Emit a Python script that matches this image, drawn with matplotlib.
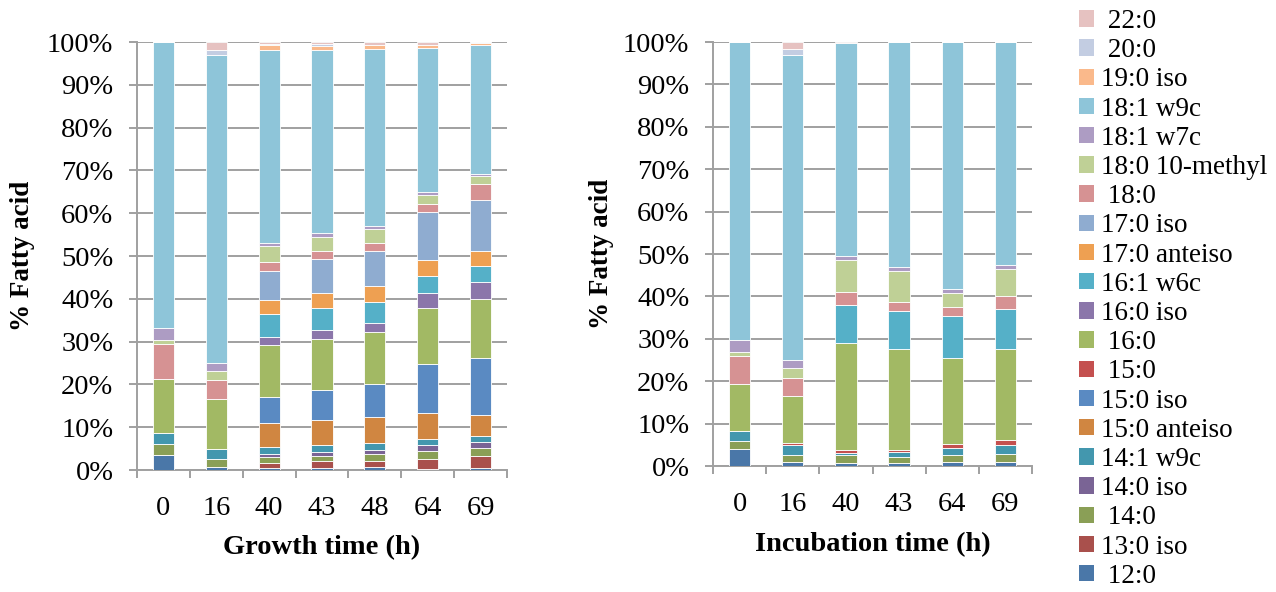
import matplotlib
matplotlib.use("Agg")
import matplotlib.pyplot as plt
from matplotlib.patches import Patch
import numpy as np

plt.rcParams['font.family'] = ['Liberation Serif', 'DejaVu Serif']

# ---------------- data ----------------
acids = ['12:0', '13:0 iso', '14:0', '14:0 iso', '14:1 w9c', '15:0 anteiso',
         '15:0 iso', '15:0', '16:0', '16:0 iso', '16:1 w6c', '17:0 anteiso',
         '17:0 iso', '18:0', '18:0 10-methyl', '18:1 w7c', '18:1 w9c',
         '19:0 iso', '20:0', '22:0']
legend_labels = [' 12:0', '13:0 iso', ' 14:0', '14:0 iso', '14:1 w9c', '15:0 anteiso',
                 '15:0 iso', ' 15:0', ' 16:0', '16:0 iso', '16:1 w6c', '17:0 anteiso',
                 '17:0 iso', ' 18:0', '18:0 10-methyl', '18:1 w7c', '18:1 w9c',
                 '19:0 iso', ' 20:0', ' 22:0']
colors = ['#4a77a8', '#a9504c', '#8a9f56', '#7a6495', '#4397ae', '#d08641',
          '#5a8ac2', '#c4504f', '#a2b964', '#8b76aa', '#55b0c8', '#eea052',
          '#8facd0', '#d69293', '#bfd096', '#ad9cc3', '#8ec5d9',
          '#fab98b', '#c3cde2', '#e6c2c1']

growth_times = ['0', '16', '40', '43', '48', '64', '69']
growth_12_0 = [3.5, 0.8, 0.5, 0.5, 0.6, 0.3, 0.5]
growth_13_0_iso = [0, 0, 1.2, 1.5, 1.5, 2.3, 2.8]
growth_14_0 = [2.5, 1.7, 1.4, 1.3, 1.6, 1.8, 1.9]
growth_14_0_iso = [0, 0, 0.6, 0.9, 0.9, 1.4, 1.4]
growth_14_1_w9c = [2.7, 2.5, 1.8, 1.6, 1.7, 1.5, 1.4]
growth_15_0_anteiso = [0, 0, 5.5, 5.8, 6.2, 6.0, 4.8]
growth_15_0_iso = [0, 0, 6.2, 7.1, 7.6, 11.6, 13.3]
growth_15_0 = [0, 0, 0, 0, 0, 0, 0]
growth_16_0 = [12.6, 11.7, 12.1, 11.8, 12.1, 12.9, 13.8]
growth_16_0_iso = [0, 0, 1.8, 2.3, 2.3, 3.7, 4.0]
growth_16_1_w6c = [0, 0, 5.5, 5.1, 4.8, 3.9, 3.7]
growth_17_0_anteiso = [0, 0, 3.3, 3.4, 3.7, 3.7, 3.4]
growth_17_0_iso = [0, 0, 6.8, 7.9, 8.3, 11.3, 12.0]
growth_18_0 = [8.2, 4.4, 2.0, 1.9, 1.9, 1.7, 3.7]
growth_18_0_10_methyl = [0.8, 2.1, 3.7, 3.3, 3.2, 2.3, 1.9]
growth_18_1_w7c = [2.9, 1.9, 0.8, 0.9, 0.8, 0.6, 0.5]
growth_18_1_w9c = [66.8, 71.8, 45.2, 42.8, 41.3, 33.7, 29.9]
growth_19_0_iso = [0, 0, 1.1, 1.0, 0.9, 0.7, 0.5]
growth_20_0 = [0, 1.2, 0.3, 0.4, 0.0, 0.1, 0.3]
growth_22_0 = [0, 1.9, 0.4, 0.5, 0.8, 0.6, 0.0]

incub_times = ['0', '16', '40', '43', '64', '69']
incub_12_0 = [3.9, 1.0, 0.8, 0.7, 0.9, 0.9]
incub_13_0_iso = [0, 0, 0, 0, 0, 0]
incub_14_0 = [2.0, 1.7, 1.7, 1.5, 1.7, 2.0]
incub_14_0_iso = [0, 0, 0, 0, 0, 0]
incub_14_1_w9c = [2.3, 2.3, 0.6, 1.0, 1.7, 2.0]
incub_15_0_anteiso = [0, 0, 0, 0, 0, 0]
incub_15_0_iso = [0, 0, 0, 0, 0, 0]
incub_15_0 = [0, 0.4, 0.7, 0.6, 0.9, 1.3]
incub_16_0 = [11.2, 11.2, 25.2, 23.7, 20.3, 21.4]
incub_16_0_iso = [0, 0, 0, 0, 0, 0]
incub_16_1_w6c = [0, 0, 8.9, 9.1, 9.8, 9.4]
incub_17_0_anteiso = [0, 0, 0, 0, 0, 0]
incub_17_0_iso = [0, 0, 0, 0, 0, 0]
incub_18_0 = [6.5, 4.2, 3.1, 2.0, 2.1, 3.2]
incub_18_0_10_methyl = [0.9, 2.3, 7.5, 7.4, 3.4, 6.3]
incub_18_1_w7c = [2.9, 2.0, 1.0, 0.9, 0.9, 0.9]
incub_18_1_w9c = [70.3, 71.8, 50.3, 53.1, 58.3, 52.8]
incub_19_0_iso = [0, 0, 0, 0, 0, 0]
incub_20_0 = [0, 1.4, 0, 0, 0, 0]
incub_22_0 = [0, 1.7, 0.2, 0, 0, 0]

growth_series = [growth_12_0, growth_13_0_iso, growth_14_0, growth_14_0_iso,
                 growth_14_1_w9c, growth_15_0_anteiso, growth_15_0_iso, growth_15_0,
                 growth_16_0, growth_16_0_iso, growth_16_1_w6c, growth_17_0_anteiso,
                 growth_17_0_iso, growth_18_0, growth_18_0_10_methyl, growth_18_1_w7c,
                 growth_18_1_w9c, growth_19_0_iso, growth_20_0, growth_22_0]
incub_series = [incub_12_0, incub_13_0_iso, incub_14_0, incub_14_0_iso,
                incub_14_1_w9c, incub_15_0_anteiso, incub_15_0_iso, incub_15_0,
                incub_16_0, incub_16_0_iso, incub_16_1_w6c, incub_17_0_anteiso,
                incub_17_0_iso, incub_18_0, incub_18_0_10_methyl, incub_18_1_w7c,
                incub_18_1_w9c, incub_19_0_iso, incub_20_0, incub_22_0]

# ---------------- figure ----------------
W, H = 1276, 592
fig = plt.figure(figsize=(W / 100, H / 100), dpi=100)
FS = 19.5
TFS = 20.5
GRID = '#a0a0a0'


def px_axes(x0, x1, ytop, ybot):
    return fig.add_axes([x0 / W, 1 - ybot / H, (x1 - x0) / W, (ybot - ytop) / H])


def draw_panel(ax, times, series, xlabel, xlab_y, ylab_x):
    data = np.array(series, dtype=float)
    data = data / data.sum(axis=0) * 100.0  # 100% stacked
    x = np.arange(len(times))
    bottom = np.zeros(len(times))
    for vals, col in zip(data, colors):
        ax.bar(x, vals, width=0.4, bottom=bottom, color=col,
               edgecolor='white', linewidth=0.6, zorder=3)
        bottom += vals
    ax.set_xlim(-0.5, len(times) - 0.5)
    ax.set_ylim(0, 100)
    ax.set_yticks(np.arange(0, 101, 10))
    ax.set_yticklabels([f'{v}%' for v in range(0, 101, 10)], fontsize=TFS)
    ax.set_xticks(x)
    ax.set_xticklabels(times, fontsize=TFS)
    ax.set_xticks(np.arange(-0.5, len(times), 1.0), minor=True)
    ax.tick_params(axis='x', which='major', length=0, pad=19)
    ax.tick_params(axis='x', which='minor', length=6, width=1.4, color=GRID)
    ax.tick_params(axis='y', which='major', length=6, width=1.4, color=GRID, pad=11)
    ax.yaxis.grid(True, color=GRID, linewidth=1.4, zorder=0)
    ax.set_axisbelow(True)
    for s in ['top', 'right']:
        ax.spines[s].set_visible(False)
    for s in ['left', 'bottom']:
        ax.spines[s].set_color(GRID)
        ax.spines[s].set_linewidth(1.4)
    ax.set_xlabel(xlabel, fontsize=TFS, fontweight='bold', va='center')
    ax.xaxis.set_label_coords(0.5, xlab_y)
    ax.set_ylabel('% Fatty acid', fontsize=FS, fontweight='bold', va='center')
    ax.yaxis.set_label_coords(ylab_x, 0.5)


ax1 = px_axes(137, 507, 42, 470)
draw_panel(ax1, growth_times, growth_series, 'Growth time (h)',
           (470 - 548) / 428, (23 - 137) / 370)

ax2 = px_axes(713, 1032, 42, 466)
draw_panel(ax2, incub_times, incub_series, 'Incubation time (h)',
           (466 - 545) / 424, (601 - 713) / 319)

handles = [Patch(facecolor=c, edgecolor='none') for c in colors][::-1]
labels = legend_labels[::-1]
fig.legend(handles, labels, loc='upper left', bbox_to_anchor=(1079 / W, 1 - 9 / H),
           frameon=False, fontsize=FS, handlelength=0.55, handleheight=0.55,
           handletextpad=0.25, labelspacing=0.155, borderpad=0, borderaxespad=0)

fig.savefig('out.png', dpi=100)
